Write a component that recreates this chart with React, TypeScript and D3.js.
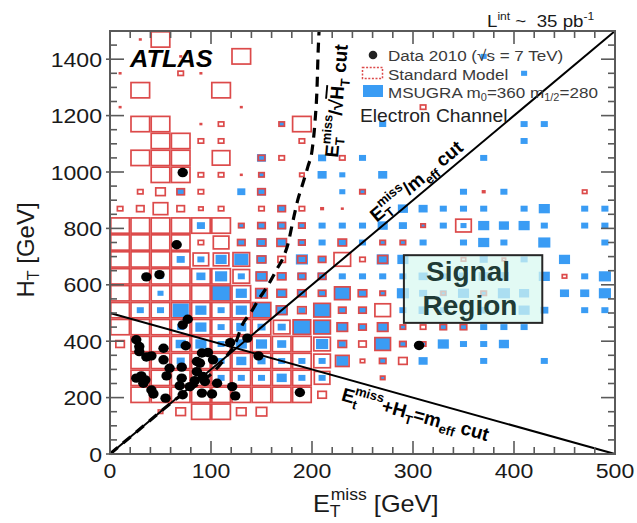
import React from "react";
import * as d3 from "d3";

// ---------- data ----------
const etBin = 20; // GeV per ET bin
const htBin = 60; // GeV per HT bin
const xTickValues = [0, 100, 200, 300, 400, 500];
const yTickValues = [0, 200, 400, 600, 800, 1000, 1200, 1400];

// [ET bin index, HT bin index, relative box size]
const standardModelBins: [number, number, number][] = [
  [1,24,0.15],[2,24,1],
  [3,23,0.15],[4,23,0.15],[6,23,1],
  [0,22,0.15],[3,22,0.35],[4,22,0.15],
  [1,21,1],[5,21,1],
  [0,20,0.15],[6,20,0.15],[15,20,0.35],
  [1,19,1],[2,19,1],[4,19,0.15],[5,19,0.35],[8,19,0.35],[9,19,1],
  [2,18,1],[3,18,1],[4,18,0.35],[5,18,0.35],[9,18,0.35],
  [1,17,1],[2,17,1],[3,17,1],[5,17,0.95],[7,17,0.4],[8,17,0.35],[11,17,0.35],
  [2,16,1],[3,16,1],[4,16,0.35],[5,16,0.35],[6,16,0.15],[7,16,0.35],[9,16,0.3],
  [1,15,0.35],[2,15,0.55],[3,15,0.45],[4,15,0.35],[7,15,0.45],[12,15,0.35],[18,15,0.2],[23,15,0.3],
  [0,14,0.35],[1,14,0.45],[2,14,0.8],[3,14,0.45],[4,14,0.3],[5,14,0.35],[7,14,0.35],[8,14,0.45],[9,14,0.35],[10,14,0.2],[11,14,0.15],
  [0,13,1],[1,13,1],[2,13,1],[3,13,1],[4,13,1],[5,13,1],[6,13,0.35],[7,13,0.45],[8,13,0.45],[9,13,0.4],[15,13,0.3],[17,13,0.85],
  [0,12,1],[1,12,1],[2,12,1],[3,12,1],[4,12,0.35],[5,12,0.85],[6,12,0.45],[7,12,0.5],[8,12,0.55],[9,12,0.4],[11,12,0.5],[13,12,0.35],[14,12,0.35],
  [0,11,1],[1,11,1],[2,11,1],[3,11,1],[4,11,0.85],[5,11,0.85],[6,11,0.9],[7,11,0.5],[8,11,0.45],[9,11,0.5],[10,11,0.45],[11,11,0.9],[12,11,0.35],[13,11,0.55],[17,11,0.3],[19,11,0.25],
  [0,10,1],[1,10,1],[2,10,1],[3,10,1],[4,10,1],[5,10,1],[6,10,0.9],[7,10,0.6],[8,10,0.5],[9,10,0.45],[10,10,0.45],[22,10,0.3],
  [0,9,1],[1,9,1],[2,9,1],[3,9,1],[4,9,1],[5,9,1],[6,9,1],[7,9,0.65],[8,9,0.55],[9,9,0.5],[10,9,0.45],[11,9,0.85],[12,9,0.5],[13,9,0.35],[16,9,0.3],[18,9,0.35],
  [0,8,1],[1,8,1],[2,8,1],[3,8,1],[4,8,1],[5,8,1],[6,8,1],[7,8,1],[8,8,0.6],[9,8,0.5],[10,8,0.9],[11,8,0.45],[12,8,0.45],[13,8,0.85],
  [0,7,1],[1,7,1],[2,7,1],[3,7,1],[4,7,1],[5,7,1],[6,7,1],[7,7,1],[8,7,0.9],[9,7,0.95],[10,7,0.9],[11,7,0.6],[12,7,0.45],[13,7,0.6],[14,7,0.35],[15,7,0.35],[16,7,0.4],[17,7,0.4],
  [0,6,0.5],[1,6,1],[2,6,1],[3,6,1],[4,6,1],[5,6,1],[6,6,1],[7,6,1],[8,6,1],[9,6,1],[10,6,0.9],[11,6,0.5],[12,6,0.45],[13,6,0.85],[14,6,0.4],[15,6,0.35],
  [1,5,1],[2,5,1],[3,5,1],[4,5,1],[5,5,1],[6,5,1],[7,5,1],[8,5,1],[9,5,1],[10,5,0.9],[11,5,0.75],[12,5,0.3],[13,5,0.4],[14,5,0.5],
  [1,4,1],[2,4,1],[3,4,1],[4,4,1],[5,4,1],[6,4,1],[7,4,1],[8,4,1],[9,4,1],[10,4,0.85],[13,4,0.3],
  [1,3,1],[2,3,1],[3,3,1],[4,3,1],[5,3,1],[6,3,1],[7,3,1],[8,3,1],[9,3,1],[10,3,0.5],
  [2,2,0.3],[3,2,0.55],[4,2,1],[5,2,1],[6,2,0.55],[7,2,0.6],
];

const msugraBins: [number, number, number][] = [
  [18,23,0.3],
  [20,22,0.3],
  [8,19,0.25],[13,19,0.35],[20,19,0.35],[21,19,0.35],
  [20,18,0.35],
  [7,17,0.45],[10,17,0.4],[12,17,0.35],[18,17,0.35],
  [7,16,0.3],[10,16,0.45],[11,16,0.3],[13,16,0.45],
  [3,15,0.4],[6,15,0.4],[7,15,0.45],[11,15,0.3],[12,15,0.25],[17,15,0.35],[19,15,0.35],
  [8,14,0.4],[14,14,0.5],[15,14,0.45],[16,14,0.35],[17,14,0.35],[18,14,0.35],[20,14,0.35],[21,14,0.55],[23,14,0.35],[24,14,0.35],
  [4,13,0.4],[6,13,0.3],[7,13,0.4],[8,13,0.45],[9,13,0.35],[10,13,0.35],[11,13,0.35],[12,13,0.35],[13,13,0.5],[14,13,0.4],[15,13,0.25],[16,13,0.35],[17,13,0.3],[18,13,0.55],[19,13,0.5],[20,13,0.55],[21,13,0.35],[23,13,0.35],[24,13,0.35],
  [6,12,0.4],[7,12,0.5],[8,12,0.45],[9,12,0.4],[10,12,0.35],[11,12,0.4],[12,12,0.35],[13,12,0.3],[14,12,0.3],[15,12,0.35],[17,12,0.35],[18,12,0.55],[19,12,0.35],[21,12,0.6],[24,12,0.35],
  [3,11,0.4],[4,11,0.35],[5,11,0.55],[6,11,0.7],[7,11,0.5],[9,11,0.6],[10,11,0.35],[13,11,0.6],[14,11,0.55],[18,11,0.4],[20,11,0.35],[22,11,0.55],
  [2,10,0.3],[4,10,0.45],[5,10,0.6],[6,10,0.35],[7,10,0.6],[8,10,0.45],[9,10,0.45],[10,10,0.45],[11,10,0.35],[12,10,0.35],[13,10,0.35],[14,10,0.35],[15,10,0.45],[16,10,0.35],[17,10,0.45],[18,10,0.5],[19,10,0.5],[21,10,0.55],[23,10,0.35],[24,10,0.6],
  [2,9,0.3],[5,9,0.9],[6,9,0.55],[7,9,0.6],[8,9,0.5],[9,9,0.4],[10,9,0.4],[11,9,0.8],[12,9,0.45],[13,9,0.3],[14,9,0.6],[15,9,0.4],[16,9,0.35],[17,9,0.55],[18,9,0.3],[19,9,0.6],[20,9,0.5],[22,9,0.45],[23,9,0.45],[24,9,0.6],
  [1,8,0.35],[2,8,0.35],[3,8,0.8],[4,8,0.55],[5,8,0.35],[6,8,0.55],[7,8,0.85],[8,8,0.6],[9,8,0.35],[10,8,0.8],[11,8,0.35],[12,8,0.35],[14,8,0.35],[15,8,0.45],[16,8,0.35],[18,8,0.4],[20,8,0.55],[21,8,0.4],[23,8,0.35],[24,8,0.35],
  [3,7,0.35],[4,7,0.55],[5,7,0.35],[6,7,0.5],[7,7,0.4],[8,7,0.4],[9,7,0.9],[10,7,0.85],[11,7,0.55],[12,7,0.35],[13,7,0.55],[14,7,0.3],[16,7,0.35],[17,7,0.35],[18,7,0.35],[19,7,0.35],[20,7,0.35],
  [3,6,0.5],[4,6,0.55],[5,6,0.35],[6,6,0.55],[7,6,0.55],[8,6,0.45],[10,6,0.6],[11,6,0.35],[13,6,0.8],[14,6,0.35],[15,6,0.3],[16,6,0.55],[17,6,0.35],[18,6,0.35],[19,6,0.5],
  [3,5,0.4],[5,5,0.35],[6,5,0.5],[7,5,0.4],[8,5,0.35],[9,5,0.35],[10,5,0.35],[11,5,0.6],[13,5,0.3],[15,5,0.45],[18,5,0.35],[21,5,0.35],
  [5,4,0.35],[6,4,0.35],[7,4,0.35],[8,4,0.5],[9,4,0.35],[10,4,0.35],[13,4,0.2],
];

// [ETmiss, HT] of the 2010 data events
const data2010: [number, number][] = [
  [72,998],[66,742],[36,628],[49,636],[72,458],[77,478],[75,384],[119,395],[136,411],[147,348],
  [26,405],[29,381],[29,363],[36,344],[41,348],[53,375],[53,334],[59,304],[56,277],[71,308],
  [86,328],[89,322],[91,358],[97,360],[102,334],[26,269],[31,277],[35,263],[33,251],[41,227],
  [43,213],[55,198],[71,269],[69,242],[79,239],[86,292],[84,260],[92,275],[94,257],[91,216],
  [101,213],[106,251],[121,239],[124,206],[188,218],[306,385],[72,210],
];

// dashed ETmiss/sqrt(HT) cut curve
const sqrtHtCutCurve: [number, number][] = [
  [0,0],[60,180],[115,345],[125,400],[130,450],[140,505],[147,547],[155,590],[165,654],[172,701],
  [176,742],[181,824],[186,902],[191,960],[196,1020],[200,1075],[203,1180],[205,1300],[206,1420],[207,1500],
];
const meffCutLine: [number, number][] = [[0, 500], [500, 0]];
const ratioCutLine: [number, number][] = [[0, 0], [500, 1500]];
const signalRegionEt = [291, 428];
const signalRegionHt = [465, 705];

const FONT = "'Liberation Sans', Arial, Helvetica, sans-serif";
const RED = "#dc4a4a";
const BLUE = "#3a9cf4";

const Stretch = ({ x, y, sx = 1.1, children }: any) => (
  <g transform={`translate(${x},${y}) scale(${sx},1)`}>{children}</g>
);

export default function App() {
  const x = d3.scaleLinear().domain([0, 500]).range([110, 615]);
  const y = d3.scaleLinear().domain([0, 1500]).range([454, 31]);
  const cellW = x(etBin) - x(0);
  const cellH = y(0) - y(htBin);
  const box = (i: number, j: number, s: number) => {
    const cx = x((i + 0.5) * etBin);
    const cy = y((j + 0.5) * htBin);
    const w = cellW * s;
    const h = cellH * s;
    return { x: cx - w / 2, y: cy - h / 2, w, h };
  };
  const line = d3.line<[number, number]>().x((d) => x(d[0])).y((d) => y(d[1]));
  const curve = d3
    .line<[number, number]>()
    .x((d) => x(d[0]))
    .y((d) => y(d[1]))
    .curve(d3.curveMonotoneX);

  const diagAngle = (Math.atan2(y(1500) - y(0), x(500) - x(0)) * 180) / Math.PI;
  const meffAngle = (Math.atan2(y(0) - y(500), x(500) - x(0)) * 180) / Math.PI;

  const xMinor = d3.range(0, 501, 20);
  const yMinor = d3.range(0, 1501, 50);
  const left = x(0), right = x(500), top = y(1500), bottom = y(0);

  const lab2Et = 268;
  const lab3Et = 234;

  return (
    <svg
      width={637}
      height={523}
      style={{ position: "absolute", left: 0, top: 0, background: "#fff" }}
      fontFamily={FONT}
    >
      <rect x={0} y={0} width={637} height={523} fill="#fff" />

      {/* MSUGRA filled boxes */}
      {msugraBins.map(([i, j, s], k) => {
        const b = box(i, j, s);
        return <rect key={"b" + k} x={b.x} y={b.y} width={b.w} height={b.h} fill={BLUE} />;
      })}
      {/* Standard Model outlined boxes */}
      {standardModelBins.map(([i, j, s], k) => {
        const b = box(i, j, s);
        if (s <= 0.2)
          return <rect key={"r" + k} x={b.x} y={b.y} width={b.w} height={b.h} fill={RED} />;
        return (
          <rect
            key={"r" + k}
            x={b.x + 0.8}
            y={b.y + 0.8}
            width={b.w - 1.6}
            height={b.h - 1.6}
            fill="none"
            stroke={RED}
            strokeWidth={1.7}
          />
        );
      })}

      {/* Signal region */}
      <rect
        x={x(signalRegionEt[0])}
        y={y(signalRegionHt[1])}
        width={x(signalRegionEt[1]) - x(signalRegionEt[0])}
        height={y(signalRegionHt[0]) - y(signalRegionHt[1])}
        fill="rgba(215,248,240,0.72)"
        stroke="#262626"
        strokeWidth={2}
      />
      <text x={468} y={281} textAnchor="middle" fontSize={28} fontWeight="bold" fill="#1f3b36">
        Signal
      </text>
      <text x={470} y={315} textAnchor="middle" fontSize={28} fontWeight="bold" fill="#1f3b36">
        Region
      </text>

      {/* cut lines */}
      <path d={line(ratioCutLine) || ""} stroke="#000" strokeWidth={2} fill="none" />
      <path d={line(meffCutLine) || ""} stroke="#000" strokeWidth={2} fill="none" />
      <path
        d={curve(sqrtHtCutCurve) || ""}
        stroke="#000"
        strokeWidth={3.2}
        fill="none"
        strokeDasharray="10,7"
      />

      {/* data points */}
      {data2010.map(([et, ht], k) => (
        <ellipse key={"d" + k} cx={x(et)} cy={y(ht)} rx={5.2} ry={4.7} fill="#000" />
      ))}

      {/* cut labels */}
      <g transform={`translate(338,158) rotate(-85)`}>
        <text fontSize={19} fontWeight="bold" fill="#000">
          E<tspan fontSize={13} dy={5}>T</tspan>
          <tspan fontSize={13} dx={-8} dy={-14}>miss</tspan>
          <tspan dy={9}>/√</tspan>
          <tspan textDecoration="overline">H</tspan>
          <tspan fontSize={13} dy={5}>T</tspan>
          <tspan dy={-5}> cut</tspan>
        </text>
      </g>
      <g transform={`translate(${x(lab2Et)},${y(3 * lab2Et)}) rotate(${diagAngle}) translate(0,-6)`}>
        <text fontSize={19} fontWeight="bold" fill="#000">
          E<tspan fontSize={13} dy={5}>T</tspan>
          <tspan fontSize={13} dx={-8} dy={-14}>miss</tspan>
          <tspan dy={9}>/m</tspan>
          <tspan fontSize={13} dy={5}>eff</tspan>
          <tspan dy={-5}> cut</tspan>
        </text>
      </g>
      <g transform={`translate(${x(lab3Et)},${y(500 - lab3Et)}) rotate(${meffAngle}) translate(0,22)`}>
        <text fontSize={19} fontWeight="bold" fill="#000">
          E<tspan fontSize={13} dy={5}>t</tspan>
          <tspan fontSize={13} dx={-5} dy={-14}>miss</tspan>
          <tspan dy={9}>+H</tspan>
          <tspan fontSize={13} dy={5}>T</tspan>
          <tspan dy={-5}>=m</tspan>
          <tspan fontSize={13} dy={5}>eff</tspan>
          <tspan dy={-5}> cut</tspan>
        </text>
      </g>

      {/* frame and ticks */}
      <rect x={left} y={top} width={right - left} height={bottom - top} fill="none" stroke="#5a5a5a" strokeWidth={2} />
      {xMinor.map((v) => {
        const len = v % 100 === 0 ? 13 : 7;
        return (
          <g key={"xt" + v} stroke="#5a5a5a" strokeWidth={1.6}>
            <line x1={x(v)} x2={x(v)} y1={bottom} y2={bottom - len} />
            <line x1={x(v)} x2={x(v)} y1={top} y2={top + len} />
          </g>
        );
      })}
      {yMinor.map((v) => {
        const len = v % 200 === 0 ? 14 : 7;
        return (
          <g key={"yt" + v} stroke="#5a5a5a" strokeWidth={1.6}>
            <line x1={left} x2={left + len} y1={y(v)} y2={y(v)} />
            <line x1={right} x2={right - len} y1={y(v)} y2={y(v)} />
          </g>
        );
      })}
      {yTickValues.map((v) => (
        <line key={"yo" + v} x1={left - 4} x2={left} y1={y(v)} y2={y(v)} stroke="#5a5a5a" strokeWidth={1.6} />
      ))}

      {/* tick labels */}
      {xTickValues.map((v) => (
        <Stretch key={"xl" + v} x={x(v)} y={478}>
          <text textAnchor="middle" fontSize={21} fill="#1a1a1a">
            {v}
          </text>
        </Stretch>
      ))}
      {yTickValues.map((v) => (
        <Stretch key={"yl" + v} x={102} y={y(v) + 7.5}>
          <text textAnchor="end" fontSize={21} fill="#1a1a1a">
            {v}
          </text>
        </Stretch>
      ))}

      {/* axis titles */}
      <Stretch x={313} y={512}>
        <text fontSize={23} fill="#1a1a1a">
          E<tspan fontSize={16} dy={5}>T</tspan>
          <tspan fontSize={16} dx={-9} dy={-17}>miss</tspan>
          <tspan dy={12}> [GeV]</tspan>
        </text>
      </Stretch>
      <g transform="translate(34,250) rotate(-90)">
        <text textAnchor="middle" fontSize={24} fill="#1a1a1a">
          H<tspan fontSize={16} dy={5}>T</tspan>
          <tspan dy={-5}> [GeV]</tspan>
        </text>
      </g>

      {/* ATLAS */}
      <Stretch x={130} y={67} sx={1.08}>
        <text fontSize={23.5} fontWeight="bold" fontStyle="italic" fill="#000">
          ATLAS
        </text>
      </Stretch>

      {/* luminosity */}
      <Stretch x={487} y={27}>
        <text fontSize={17} fill="#1a1a1a" xmlSpace="preserve">
          L<tspan fontSize={11} dy={-7}>int</tspan>
          <tspan dy={7}>{" ~  35 pb"}</tspan>
          <tspan fontSize={11} dy={-7}>-1</tspan>
        </text>
      </Stretch>

      {/* legend */}
      <circle cx={373} cy={55} r={4.3} fill="#222" />
      <Stretch x={388} y={61}>
        <text fontSize={15.5} fill="#3a3a3a">
          Data 2010 (√s = 7 TeV)
        </text>
      </Stretch>
      <rect x={362.5} y={67.5} width={20} height={11} fill="none" stroke={RED} strokeWidth={1.5} strokeDasharray="2,1.6" />
      <Stretch x={388} y={79.5}>
        <text fontSize={15.5} fill="#3a3a3a">
          Standard Model
        </text>
      </Stretch>
      <rect x={363} y={85} width={20} height={12} fill={BLUE} />
      <Stretch x={388} y={98}>
        <text fontSize={15.5} fill="#3a3a3a">
          MSUGRA m<tspan fontSize={10} dy={3}>0</tspan>
          <tspan dy={-3}>=360 m</tspan>
          <tspan fontSize={10} dy={3}>1/2</tspan>
          <tspan dy={-3}>=280</tspan>
        </text>
      </Stretch>
      <Stretch x={360} y={121.5}>
        <text fontSize={17.5} fill="#222">
          Electron Channel
        </text>
      </Stretch>
    </svg>
  );
}
